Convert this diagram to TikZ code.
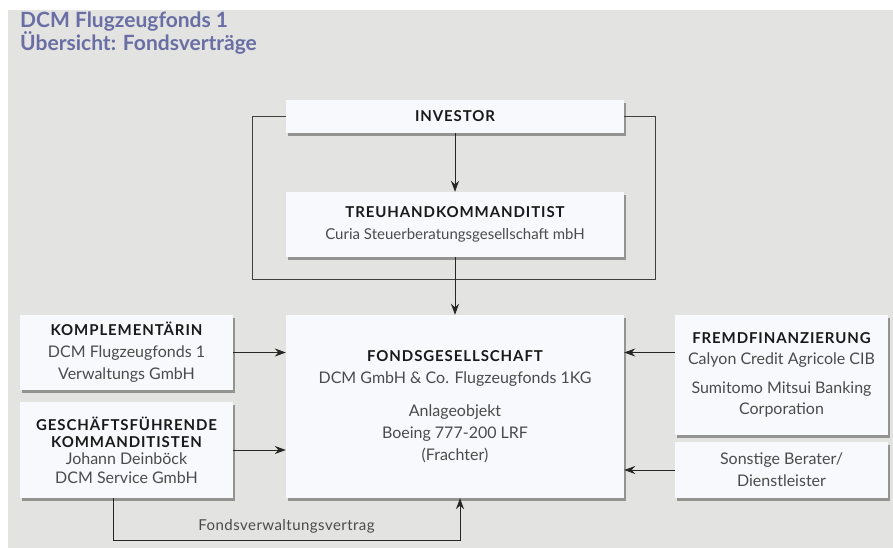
\documentclass[tikz,border=0pt]{standalone}
\usepackage{fontspec}
\setmainfont{Lato}
\usetikzlibrary{shadows,arrows.meta}
\definecolor{bggray}{RGB}{227,227,225}
\definecolor{boxfill}{RGB}{248,249,252}
\definecolor{titleblue}{RGB}{105,110,165}
\definecolor{txtgray}{RGB}{75,75,75}
\definecolor{hdblack}{RGB}{25,25,25}
\newcommand{\hd}[1]{{\fontsize{15}{21}\selectfont\bfseries\addfontfeatures{LetterSpace=6}\color{hdblack}#1}}

\begin{document}
\begin{tikzpicture}[x=1pt,y=-1pt,
  box/.style={fill=boxfill,drop shadow={shadow xshift=1.5pt,shadow yshift=-3pt,opacity=0.35,fill=black},
    align=center,text=txtgray,inner sep=0pt,font=\fontsize{16}{22}\selectfont},
  arr/.style={draw=black!85,line width=0.8pt,-{Stealth[length=11pt,width=8pt]}},
  link/.style={draw=black!75,line width=0.7pt}]
  \useasboundingbox (0,0) rectangle (893,548);
  \fill[bggray] (8,10) rectangle (893,548);
  \node[anchor=north west,align=left,text=titleblue,inner sep=0pt,
    font=\fontsize{21}{23}\selectfont\bfseries] (title) at (20,12)
    {DCM Flugzeugfonds 1\\Übersicht: Fondsverträge};
  % middle column
  \node[box,minimum width=338,minimum height=33] (inv) at (455,116.5) {\hd{INVESTOR}};
  \node[box,minimum width=338,minimum height=65,font=\fontsize{15}{22}\selectfont] (treu) at (455,224.5)
    {\hd{TREUHANDKOMMANDITIST}\\Curia Steuerberatungsgesellschaft mbH};
  \node[box,minimum width=338,minimum height=183] (fonds) at (455,406.5)
    {\hd{FONDSGESELLSCHAFT}\\DCM GmbH \& Co. Flugzeugfonds 1KG\\[11pt]
     Anlageobjekt\\Boeing 777-200 LRF\\(Frachter)};
  % left column
  \node[box,minimum width=213,minimum height=75] (kompl) at (126.5,352.5)
    {\hd{KOMPLEMENTÄRIN}\\DCM Flugzeugfonds 1\\Verwaltungs GmbH};
  \node[box,minimum width=213,minimum height=96,font=\fontsize{16}{19}\selectfont] (gesch) at (126.5,450)
    {\hd{GESCHÄFTSFÜHRENDE}\\[-2pt]\hd{KOMMANDITISTEN}\\[-2pt]Johann Deinböck\\DCM Service GmbH};
  % right column
  \node[box,minimum width=213,minimum height=120] (fremd) at (781.5,375)
    {\hd{FREMDFINANZIERUNG}\\[-1pt]Calyon Credit Agricole CIB\\[7pt]
     Sumitomo Mitsui Banking\\[-1pt]Corporation};
  \node[box,minimum width=213,minimum height=56] (sonst) at (781.5,470)
    {Sonstige Berater/\\Dienstleister};
  % connectors
  \coordinate (jl) at (252,279);
  \coordinate (jr) at (655,279);
  \draw[link] (inv.west) -| (jl) -- (jr) |- (inv.east);
  \draw[arr] (inv) -- (treu);
  \draw[arr] (treu) -- (fonds);
  \draw[arr] (kompl.east) -- (kompl.east -| fonds.west);
  \draw[arr] (gesch.east) -- (gesch.east -| fonds.west);
  \draw[arr] (fremd.west |- kompl.east) -- (kompl.east -| fonds.east);
  \draw[arr] (sonst.west) -- (sonst.west -| fonds.east);
  \coordinate (fb) at (113,540);
  \draw[arr] (gesch.south -| fb) |- (fb) -- node[above=3pt,text=txtgray,font=\fontsize{15}{17}\selectfont\addfontfeatures{LetterSpace=3}] (fvv) {Fondsverwaltungsvertrag}
    (fb -| 460,0) -- (fonds.south -| 460,0);
\end{tikzpicture}
\end{document}
